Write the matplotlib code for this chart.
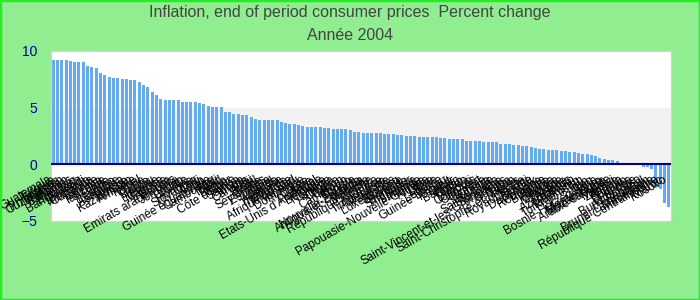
import matplotlib
matplotlib.use("Agg")
import matplotlib.pyplot as plt
from matplotlib.patches import Rectangle

# Inflation 2004 (percent change)
countries = [
    "Guatemala", "Turquie", "Philippines", "Ouzbékistan", "Pakistan", "Bahamas",
    "Bhoutan", "Bangladesh", "Burundi", "Mongolie", "Ouganda", "Egypte",
    "Kenya", "Tanzanie", "Inde", "Lesotho", "Namibie", "Botswana",
    "Russie", "Kazakhstan", "Arménie", "Népal", "Chine", "Belize",
    "Pérou", "Lituanie", "Maurice", "Estonie", "Bolivie", "Emirats arabes unis",
    "Jordanie", "Liban", "Croatie", "Hongrie", "Slovaquie", "Chili",
    "Togo", "Guinée équatoriale", "Cambodge", "Mali", "Tchad", "Bénin",
    "Niger", "Côte d'Ivoire", "Samoa", "Tonga", "Canada", "Fidji",
    "Brésil", "Grèce", "Seychelles", "Espagne", "Israël", "Irlande",
    "Australie", "Thaïlande", "Mexique", "Afrique du Sud", "Vanuatu", "Dominique",
    "Corée", "Italie", "Portugal", "Etats-Unis d'Amérique", "Belgique", "Norvège",
    "Islande", "Chypre", "Gabon", "Cameroun", "Congo", "Tunisie",
    "Nouvelle-Zélande", "Antigua-et-Barbuda", "Malaisie", "Autriche", "République kirghize", "France",
    "Timor-Leste", "Allemagne", "Pays-Bas", "Luxembourg", "Slovénie", "Barbade",
    "Singapour", "Suisse", "Finlande", "Papouasie-Nouvelle-Guinée", "Algérie", "Libye",
    "Syrie", "Lettonie", "Guinée-Bissau", "Koweït", "Qatar", "Bahreïn",
    "Oman", "Yémen", "Djibouti", "Comores", "Cap-Vert", "Gambie",
    "Liberia", "Grenade", "Sainte-Lucie", "Suriname", "Saint-Vincent-et-les-Grenadines", "Guyana",
    "Japon", "Saint-Christophe-et-Niévès", "Malte", "Royaume-Uni", "Suède", "Danemark",
    "Pologne", "Roumanie", "Bulgarie", "Albanie", "Géorgie", "Moldavie",
    "Ukraine", "Bélarus", "Azerbaïdjan", "Tadjikistan", "Turkménistan", "Iran",
    "Iraq", "Bosnie-Herzégovine", "Monténégro", "Mozambique", "Arabie saoudite", "Malawi",
    "Zambie", "Angola", "Soudan", "Erythrée", "Ethiopie", "Burkina Faso",
    "Sénégal", "Brunéi Darussalam", "Macédoine", "République Centrafricaine", "Maroc", "Kosovo",
]

values = [
    9.2, 9.2, 9.2, 9.2, 9.1, 9.0, 9.0, 9.0, 8.67, 8.58, 8.5, 8.05,
    7.88, 7.7, 7.6, 7.6, 7.52, 7.52, 7.43, 7.43, 7.26, 7.0, 6.8, 6.37,
    6.1, 5.75, 5.66, 5.66, 5.66, 5.66, 5.49, 5.49, 5.49, 5.49, 5.4, 5.31,
    5.13, 5.04, 5.04, 5.04, 4.6, 4.6, 4.42, 4.42, 4.34, 4.34, 4.16, 3.98,
    3.89, 3.89, 3.89, 3.89, 3.89, 3.72, 3.63, 3.54, 3.54, 3.45, 3.36, 3.27,
    3.27, 3.27, 3.27, 3.19, 3.19, 3.1, 3.1, 3.1, 3.1, 3.0, 2.83, 2.83,
    2.74, 2.74, 2.74, 2.74, 2.74, 2.65, 2.65, 2.65, 2.57, 2.57, 2.48, 2.48,
    2.48, 2.39, 2.39, 2.39, 2.39, 2.39, 2.3, 2.3, 2.21, 2.21, 2.21, 2.21,
    2.04, 2.04, 2.04, 2.04, 1.95, 1.95, 1.95, 1.95, 1.77, 1.77, 1.77, 1.68,
    1.68, 1.59, 1.59, 1.5, 1.42, 1.33, 1.33, 1.24, 1.24, 1.24, 1.15, 1.15,
    1.06, 1.06, 0.97, 0.88, 0.88, 0.8, 0.71, 0.53, 0.44, 0.35, 0.35, 0.27,
    0.09, 0.0, 0.0, 0.0, 0.0, -0.27, -0.27, -0.45, -2.1, -2.15, -3.45, -3.8,
]

title = "Inflation, end of period consumer prices  Percent change"
subtitle = "Année 2004"
yticks = [-5, 0, 5, 10]

plt.rcParams['font.family'] = ['Liberation Sans', 'DejaVu Sans']

fig = plt.figure(figsize=(7, 3), dpi=100, facecolor='#90ee90')
ax = fig.add_axes([51/700, 1 - 221/300, 620/700, 170/300])
ax.set_facecolor('white')

# light band between 0 and 5
ax.axhspan(0, 5, color='#f2f2f2', zorder=0, lw=0)

x = list(range(len(values)))
ax.bar(x, values, width=0.7, color='#64aaf0', zorder=2)
ax.axhline(0, color='#000099', lw=1.5, zorder=3)

ax.set_xlim(-0.5, len(values) - 0.5)
ax.set_ylim(-5, 10)
ax.set_yticks(yticks)
ax.set_xticks([])
ax.tick_params(axis='y', length=0, labelsize=10, labelcolor='#0000a0', pad=10)
for s in ax.spines.values():
    s.set_color('#d4d4d4')
    s.set_linewidth(1)

# country labels hang under the zero line
for i, name in enumerate(countries):
    ax.annotate(name, xy=(i, 0), xytext=(-2, -10.5), textcoords='offset points',
                rotation=30, rotation_mode='anchor', ha='right', va='center',
                fontsize=8.5, color='black', annotation_clip=False, zorder=4)

fig.text(0.5, 1 - 13/300, title, ha='center', va='center', fontsize=11.5, color='#444444')
fig.text(0.5, 1 - 36/300, subtitle, ha='center', va='center', fontsize=11.5, color='#444444')

fig.patches.append(Rectangle((0, 0), 1, 1, transform=fig.transFigure, fill=False,
                             edgecolor='#22ee22', lw=2.5, zorder=10))

fig.savefig("out.png", dpi=100, facecolor=fig.get_facecolor())
